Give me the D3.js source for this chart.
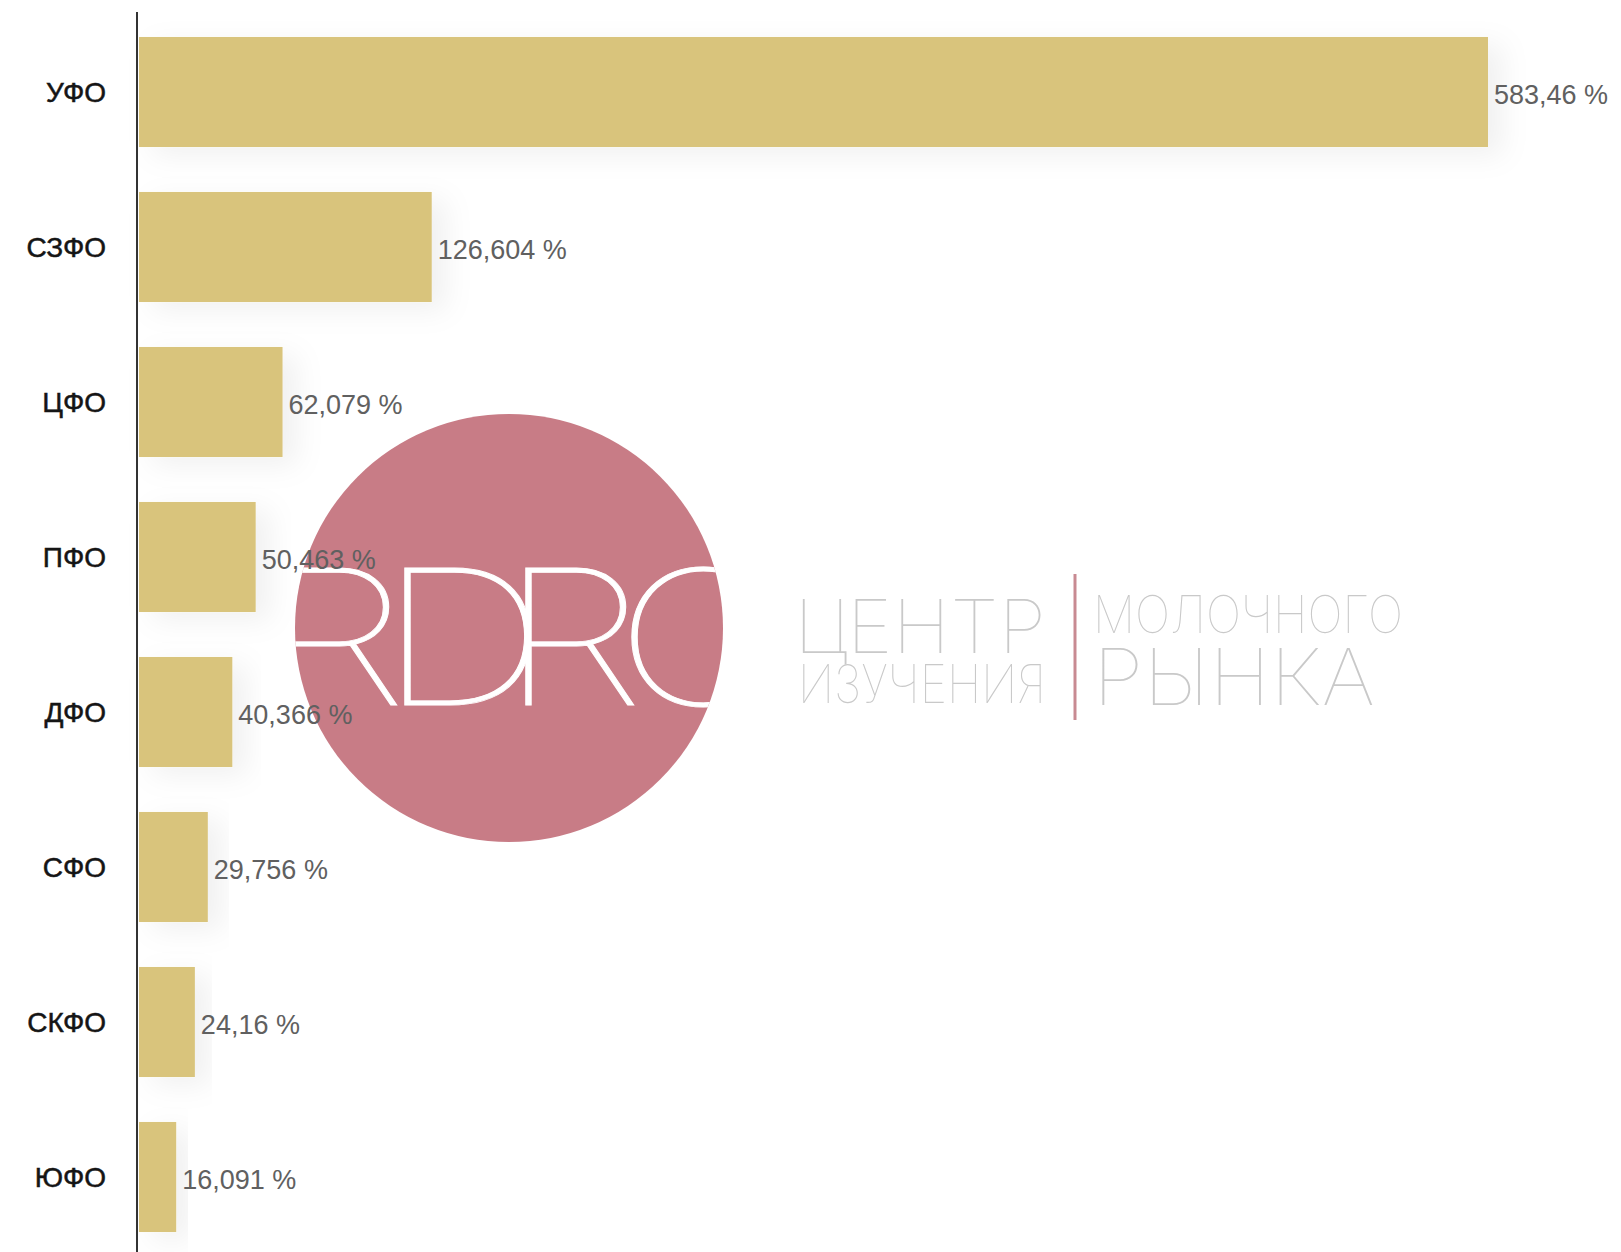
<!DOCTYPE html>
<html>
<head>
<meta charset="utf-8">
<script src="https://cdn.jsdelivr.net/npm/d3@7"></script>
<style>
  html, body { margin: 0; padding: 0; background: #fff; }
  svg { display: block; }
</style>
</head>
<body>
<div id="chart"></div>
<script>
var regions = ["УФО", "СЗФО", "ЦФО", "ПФО", "ДФО", "СФО", "СКФО", "ЮФО"];
var values = [583.46, 126.604, 62.079, 50.463, 40.366, 29.756, 24.16, 16.091];
var valueLabels = ["583,46 %", "126,604 %", "62,079 %", "50,463 %", "40,366 %", "29,756 %", "24,16 %", "16,091 %"];

var width = 1621, height = 1252;
var data = regions.map(function (d, i) {
  return { region: d, value: values[i], label: valueLabels[i] };
});

var svg = d3.select("#chart")
  .append("svg")
  .attr("width", width)
  .attr("height", height);

var defs = svg.append("defs");
defs.append("filter")
  .attr("id", "soft")
  .attr("x", "-10%").attr("y", "-40%")
  .attr("width", "140%").attr("height", "200%")
  .append("feDropShadow")
  .attr("dx", 14).attr("dy", 8)
  .attr("stdDeviation", 14)
  .attr("flood-color", "#000")
  .attr("flood-opacity", 0.06);

defs.append("clipPath")
  .attr("id", "logoClip")
  .append("circle")
  .attr("cx", 509).attr("cy", 628).attr("r", 214);

var x = d3.scaleLinear()
  .domain([0, 583.46])
  .range([139, 1488]);

var y = d3.scaleBand()
  .domain(regions)
  .range([14.5, 1254.5])
  .paddingInner(0.29)
  .paddingOuter(0.145);

// bars
svg.append("g")
  .selectAll("rect")
  .data(data)
  .enter()
  .append("rect")
  .attr("x", x(0))
  .attr("y", function (d) { return y(d.region); })
  .attr("width", function (d) { return x(d.value) - x(0); })
  .attr("height", y.bandwidth())
  .attr("fill", "#d9c47b")
  .attr("filter", "url(#soft)");

// axis line
svg.append("line")
  .attr("x1", 137).attr("x2", 137)
  .attr("y1", 12).attr("y2", height)
  .attr("stroke", "#333")
  .attr("stroke-width", 2);

// category labels
svg.append("g")
  .selectAll("text")
  .data(data)
  .enter()
  .append("text")
  .attr("x", 106)
  .attr("y", function (d) { return y(d.region) + y.bandwidth() / 2; })
  .attr("dy", "0.36em")
  .attr("text-anchor", "end")
  .style("font-family", "'Liberation Sans', Arial, sans-serif")
  .style("font-size", "28px")
  .style("fill", "#151515")
  .style("stroke", "#151515")
  .style("stroke-width", 0.5)
  .text(function (d) { return d.region; });

// watermark logo
var logo = svg.append("g");
logo.append("circle")
  .attr("cx", 509).attr("cy", 628).attr("r", 214)
  .attr("fill", "#c87c86");

// RDRC: wide thin letters, clipped by the circle
logo.append("g")
  .attr("clip-path", "url(#logoClip)")
  .append("g")
  .attr("transform", "translate(0,705) scale(1.26,1)")
  .append("text")
  .attr("x", "208 300 396 488")
  .attr("y", 0)
  .style("font-family", "Inter, 'Noto Sans', sans-serif")
  .style("font-weight", 100)
  .style("font-size", "188px")
  .style("fill", "#fff")
  .style("stroke", "#fff")
  .style("stroke-width", 0.8)
  .text("RDRC");

var grey = "#c9c9c9";
function logoText(t, xx, yy, size, len) {
  logo.append("text")
    .attr("x", xx).attr("y", yy)
    .attr("textLength", len)
    .attr("lengthAdjust", "spacingAndGlyphs")
    .style("font-family", "Inter, 'Noto Sans', sans-serif")
    .style("font-weight", 100)
    .style("font-size", size + "px")
    .style("fill", grey)
    .text(t);
}
logoText("ЦЕНТР", 794, 653, 74, 252);
logoText("ИЗУЧЕНИЯ", 798, 703, 53, 248);
logoText("МОЛОЧНОГО", 1093, 633, 52, 310);
logoText("РЫНКА", 1093, 705, 78, 282);

logo.append("line")
  .attr("x1", 1075).attr("x2", 1075)
  .attr("y1", 574).attr("y2", 720)
  .attr("stroke", "#c88a92")
  .attr("stroke-width", 3);

// value labels
svg.append("g")
  .selectAll("text")
  .data(data)
  .enter()
  .append("text")
  .attr("x", function (d) { return x(d.value) + 6; })
  .attr("y", function (d) { return y(d.region) + y.bandwidth() / 2 + 2; })
  .attr("dy", "0.36em")
  .style("font-family", "'Liberation Sans', Arial, sans-serif")
  .style("font-size", "27px")
  .style("fill", "#606060")
  .text(function (d) { return d.label; });
</script>
</body>
</html>
